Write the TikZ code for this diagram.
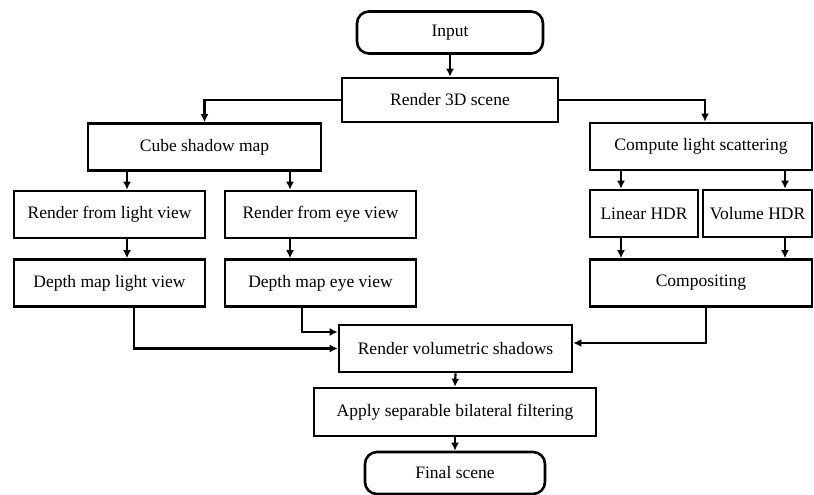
\documentclass[tikz,border=0pt]{standalone}
\usepackage{fontspec}
\setmainfont{Liberation Serif}
\usetikzlibrary{arrows.meta}
\begin{document}
\begin{tikzpicture}[x=1pt,y=-1pt,line width=2.6pt,
    font=\fontsize{17.5}{20}\selectfont,
    blk/.style={draw,rectangle,inner sep=0pt,minimum height=47pt},
    term/.style={blk,rounded corners=12pt,minimum height=42pt},
    arr/.style={-{Latex[length=8pt,width=8pt]},line width=2.2pt}]
    \useasboundingbox (0,0) rectangle (814,495);
    % top
    \node[term,minimum width=186pt] (in) at (450,32.5) {Input};
    \node[blk,minimum width=216pt,minimum height=44pt] (r3d) at (450,100) {Render 3D scene};
    % shadow branch
    \node[blk,minimum width=233pt] (csm) at (204.5,147) {Cube shadow map};
    \node[blk,minimum width=191pt] (rl) at (109.5,214.5) {Render from light view};
    \node[blk,minimum width=191pt] (re) at (320.5,214.5) {Render from eye view};
    \node[blk,minimum width=191pt] (dl) at (109.5,283) {Depth map light view};
    \node[blk,minimum width=191pt] (de) at (320.5,283) {Depth map eye view};
    % scattering branch
    \node[blk,minimum width=222pt] (cls) at (701,146.5) {Compute light scattering};
    \node[blk,minimum width=108pt] (lin) at (644,213.5) {Linear HDR};
    \node[blk,minimum width=109pt] (vol) at (757.5,213.5) {Volume HDR};
    \node[blk,minimum width=222pt] (comp) at (701,283) {Compositing};
    % bottom
    \node[blk,minimum width=233pt] (rvs) at (455.5,348.5) {Render volumetric shadows};
    \node[blk,minimum width=282pt,minimum height=48pt] (asb) at (455,412) {Apply separable bilateral filtering};
    \node[term,minimum width=180pt] (fin) at (455,473) {Final scene};
    % arrows
    \draw[arr] (in.south) -- (r3d.north);
    \draw[arr] (r3d.west) -| (csm.north);
    \draw[arr] (r3d.east) -| ([xshift=4pt]cls.north);
    \draw[arr] ([xshift=-77.5pt]csm.south) -- ([xshift=17.5pt]rl.north);
    \draw[arr] ([xshift=85.5pt]csm.south) -- ([xshift=-30.5pt]re.north);
    \draw[arr] ([xshift=17.5pt]rl.south) -- ([xshift=17.5pt]dl.north);
    \draw[arr] ([xshift=-30.5pt]re.south) -- ([xshift=-30.5pt]de.north);
    \draw[arr] ([xshift=-80pt]cls.south) -- ([xshift=-23pt]lin.north);
    \draw[arr] ([xshift=84pt]cls.south) -- ([xshift=27.5pt]vol.north);
    \draw[arr] ([xshift=-23pt]lin.south) -- ([xshift=-80pt]comp.north);
    \draw[arr] ([xshift=27.5pt]vol.south) -- ([xshift=84pt]comp.north);
    \draw[arr] ([xshift=24.5pt]dl.south) |- (rvs.west);
    \draw[arr] ([xshift=-18.5pt]de.south) |- ([yshift=16.5pt]rvs.west);
    \draw[arr] ([xshift=5pt]comp.south) |- ([yshift=5.5pt]rvs.east);
    \draw[arr] (rvs.south) -- (asb.north);
    \draw[arr] (asb.south) -- (fin.north);
\end{tikzpicture}
\end{document}
